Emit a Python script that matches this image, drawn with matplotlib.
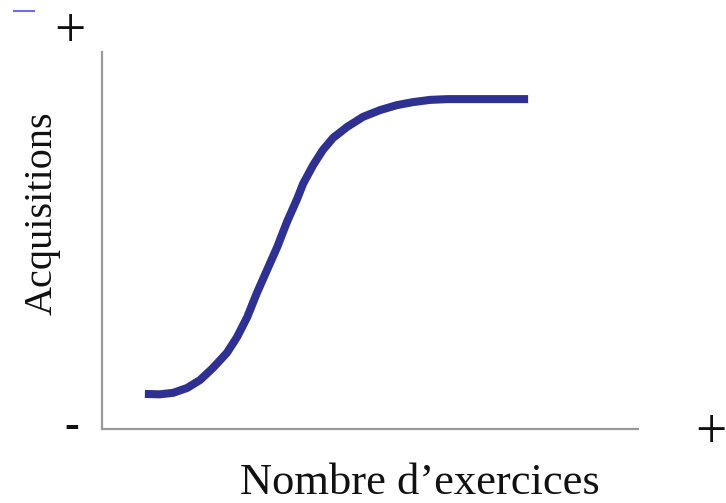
import matplotlib
matplotlib.use("Agg")
import matplotlib.pyplot as plt

# learning curve (arbitrary units, axis 0..10)
exercices = [0.80, 1.08, 1.33, 1.59, 1.83, 2.07, 2.33, 2.52, 2.71, 2.89,
             3.08, 3.27, 3.45, 3.64, 3.75, 3.94, 4.12, 4.31, 4.57, 4.87,
             5.19, 5.50, 5.80, 6.12, 6.44, 6.74, 7.05, 7.37, 7.67, 7.95]
acquisitions = [0.93, 0.92, 0.96, 1.09, 1.30, 1.62, 2.02, 2.44, 2.97, 3.61,
                4.22, 4.83, 5.49, 6.10, 6.50, 7.00, 7.40, 7.72, 8.01, 8.28,
                8.46, 8.59, 8.67, 8.73, 8.75, 8.75, 8.75, 8.75, 8.75, 8.75]

W, H = 726, 503
fig = plt.figure(figsize=(W / 100, H / 100), dpi=100)
plt.rcParams["font.family"] = ["Liberation Serif", "DejaVu Serif"]

ax = fig.add_axes([102 / W, (H - 429) / H, 536 / W, 377 / H])
ax.plot(exercices, acquisitions, color="#2e3192", lw=5.8,
        solid_capstyle="butt", solid_joinstyle="round")
ax.set_xlim(0, 10)
ax.set_ylim(0, 10)
ax.set_xticks([])
ax.set_yticks([])
for side in ("top", "right"):
    ax.spines[side].set_visible(False)
for side in ("left", "bottom"):
    ax.spines[side].set_color("#999999")
    ax.spines[side].set_linewidth(1.6)

def px(x, y):
    return x / W, 1 - y / H

fig.text(*px(42, 213), "Acquisitions", rotation=90, ha="center", va="center",
         fontsize=29, color="#111111")
fig.text(*px(420, 483), "Nombre d\u2019exercices", ha="center", va="center",
         fontsize=32, color="#111111")
fig.text(*px(70, 33), "+", ha="center", va="center", fontsize=40, color="#111111")
fig.text(*px(711, 434), "+", ha="center", va="center", fontsize=40, color="#111111")
fig.text(*px(72, 427), "-", ha="center", va="center", fontsize=32,
         color="#111111", fontweight="bold")

# small blue artifact in the top-left corner
fig.add_artist(plt.Line2D([14 / W, 34 / W], [1 - 11 / H, 1 - 11 / H],
                          color="#4a4ae0", lw=1.5, alpha=0.8))

fig.savefig("out.png", dpi=100)
